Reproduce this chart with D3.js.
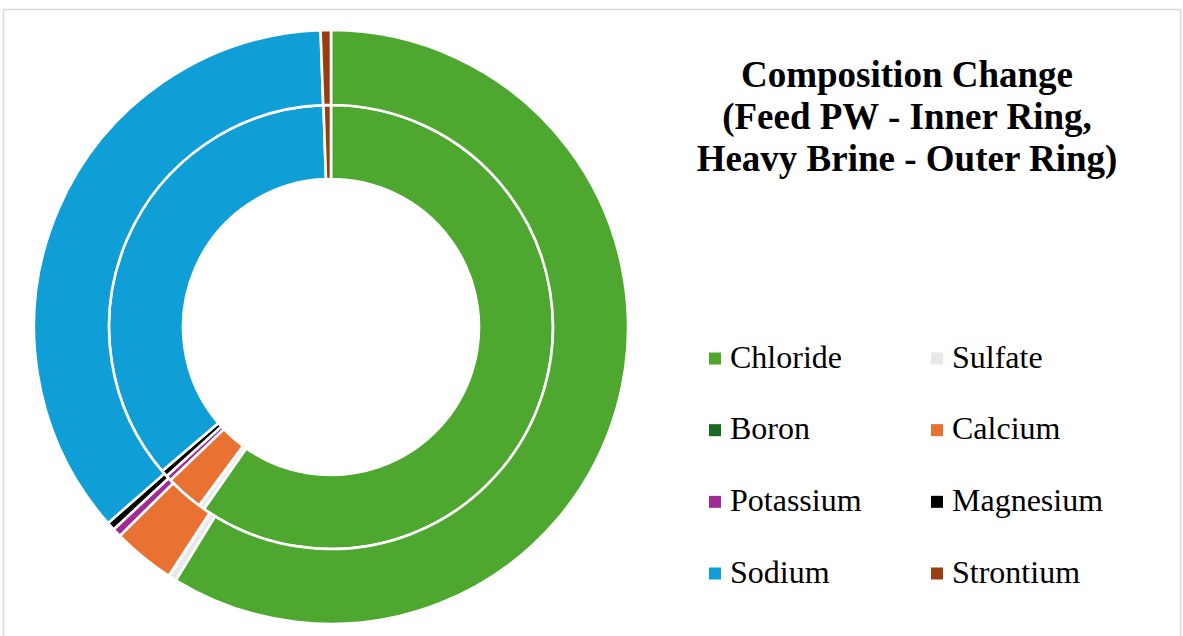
<!DOCTYPE html>
<html>
<head>
<meta charset="utf-8">
<script src="https://cdn.jsdelivr.net/npm/d3@7"></script>
<style>
  body { margin: 0; background: #ffffff; }
  svg { display: block; }
</style>
</head>
<body>
<svg id="chart" width="1183" height="636"></svg>
<script>
// Ion categories, in legend / slice order (clockwise from 12 o'clock)
const categories = ["Chloride", "Sulfate", "Boron", "Calcium", "Potassium", "Magnesium", "Sodium", "Strontium"];

// Mass share of each ion (%), feed produced water -> inner ring
const feedPW = [59.70, 0.40, 0.03, 2.75, 0.40, 0.48, 35.70, 0.54];

// Mass share of each ion (%), heavy brine -> outer ring
const heavyBrine = [58.75, 0.42, 0.03, 3.39, 0.48, 0.45, 35.92, 0.56];

const sliceColors = ["#4ea72e", "#e8e8e8", "#196b24", "#e97132", "#a02b93", "#000000", "#0f9ed5", "#9a3e12"];

const titleLines = ["Composition Change", "(Feed PW - Inner Ring,", "Heavy Brine - Outer Ring)"];

const svg = d3.select("#chart");
const W = 1183, H = 636;

// chart area frame
svg.append("rect")
  .attr("x", 3.5).attr("y", 9.5)
  .attr("width", 1177).attr("height", 650)
  .attr("fill", "#ffffff")
  .attr("stroke", "#d9d9d9")
  .attr("stroke-width", 1.5);

const color = d3.scaleOrdinal(categories, sliceColors);

const cx = 331, cy = 327;
const rHole = 148, rMid = 222, rOuter = 297;

const pie = d3.pie().sort(null).value(d => d.value);

const rings = [
  { name: "Feed PW", values: feedPW, inner: rHole, outer: rMid },
  { name: "Heavy Brine", values: heavyBrine, inner: rMid, outer: rOuter }
];

const donut = svg.append("g").attr("transform", `translate(${cx},${cy})`);

rings.forEach(ring => {
  const arc = d3.arc().innerRadius(ring.inner).outerRadius(ring.outer);
  const data = categories.map((c, i) => ({ category: c, value: ring.values[i] }));
  donut.append("g")
    .attr("class", "ring")
    .selectAll("path")
    .data(pie(data))
    .join("path")
    .attr("d", arc)
    .attr("fill", d => color(d.data.category))
    .attr("stroke", "#ffffff")
    .attr("stroke-width", 2.6)
    .attr("stroke-linejoin", "miter");
});

// Title
const title = svg.append("text")
  .attr("x", 907)
  .attr("text-anchor", "middle")
  .attr("font-family", "'Liberation Serif', 'Times New Roman', serif")
  .attr("font-weight", "bold")
  .attr("font-size", 37)
  .attr("fill", "#000000");
title.selectAll("tspan")
  .data(titleLines)
  .join("tspan")
  .attr("x", 907)
  .attr("y", (d, i) => 87 + i * 42)
  .text(d => d);

// Legend: two columns, four rows
const legendCols = [709, 931];
const legendRowY = d3.scalePoint().domain([0, 1, 2, 3]).range([358.5, 573.5]);

const legend = svg.append("g").attr("class", "legend");
const items = legend.selectAll("g")
  .data(categories)
  .join("g")
  .attr("transform", (d, i) => `translate(${legendCols[i % 2]},${legendRowY(Math.floor(i / 2))})`);

items.append("rect")
  .attr("x", 0).attr("y", -6)
  .attr("width", 12).attr("height", 12)
  .attr("fill", d => color(d));

items.append("text")
  .attr("x", 21).attr("y", 9)
  .attr("font-family", "'Liberation Serif', 'Times New Roman', serif")
  .attr("font-size", 32)
  .attr("fill", "#000000")
  .text(d => d);
</script>
</body>
</html>
